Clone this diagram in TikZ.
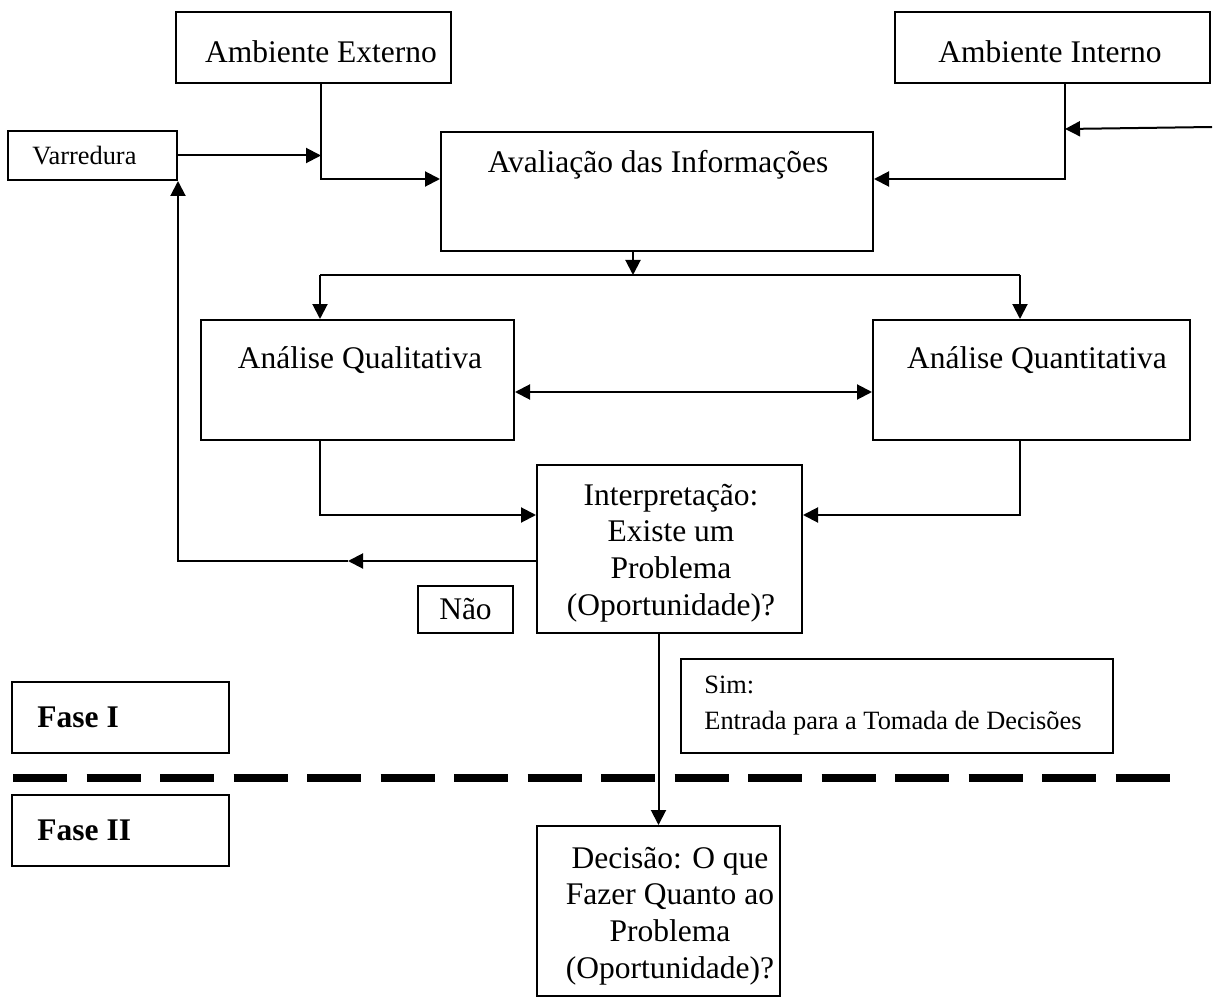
\documentclass[tikz,border=0pt]{standalone}
\usepackage{fontspec}
\setmainfont{Liberation Serif}
\usepackage{tikz}
\usetikzlibrary{positioning}
\usetikzlibrary{arrows.meta}

\newcommand{\mainsize}{\fontsize{15.75}{18.3}\selectfont}
\newcommand{\smallsize}{\fontsize{13.2}{18}\selectfont}

\tikzset{
  box/.style={draw, line width=1pt, inner sep=0pt},
  txt/.style={font=\mainsize, align=center, inner sep=0pt},
  ln/.style={line width=1pt},
  arr/.style={ln, -{Triangle[length=7.5pt,width=7.5pt]}},
  dblarr/.style={ln, {Triangle[length=7.5pt,width=7.5pt]}-{Triangle[length=7.5pt,width=7.5pt]}},
  phase/.style={line width=4pt, dash pattern=on 27pt off 9.75pt},
}

\begin{document}
\begin{tikzpicture}[x=0.5pt,y=-0.5pt]
\useasboundingbox (0,0) rectangle (1217,1006);

% caixas de cima
\node[box, minimum width=137.5pt, minimum height=35.5pt] (ambext) at (313.5,47.5) {};
\node[txt, anchor=base] (ambext-t) at (321,63) {Ambiente Externo};
\node[box, minimum width=157.5pt, minimum height=35.5pt] (ambint) at (1052.5,47.5) {};
\node[txt, anchor=base] (ambint-t) at (1050,63) {Ambiente Interno};
\node[box, minimum width=84.5pt, minimum height=24.5pt] (varr) at (92.5,155.5) {};
\node[txt, font=\smallsize, anchor=base west] (varr-t) at (32,165) {Varredura};
\node[box, minimum width=216pt, minimum height=59.5pt] (aval) at (657,191.5) {};
\node[txt, anchor=base] (aval-t) at (658,173) {Avaliação das Informações};

% analises
\node[box, minimum width=156.5pt, minimum height=60pt] (qual) at (357.5,380) {};
\node[txt, anchor=base] (qual-t) at (360,368) {Análise Qualitativa};
\node[box, minimum width=158.5pt, minimum height=60pt] (quant) at (1031.5,380) {};
\node[txt, anchor=base] (quant-t) at (1037,368) {Análise Quantitativa};

% interpretacao e decisao
\node[box, minimum width=132.5pt, minimum height=84pt] (interp) at (669.5,549) {};
\node[txt] (interp-t) at (671,553) {Interpretação:\\Existe um\\Problema\\(Oportunidade)?};
\node[box, font=\mainsize, minimum width=47.5pt, minimum height=23.5pt] (nao) at (465.5,609.5) {Não};
\node[box, minimum width=216pt, minimum height=47pt] (sim) at (897,706) {};
\node[txt, font=\smallsize, align=left, anchor=west] (sim-t) at (704,706) {Sim:\\Entrada para a Tomada de Decisões};
\node[box, minimum width=121.5pt, minimum height=85pt] (decisao) at (658.5,911) {};
\node[txt] (decisao-t) at (670,916) {Decisão: O que\\Fazer Quanto ao\\Problema\\(Oportunidade)?};

% fases
\node[box, minimum width=108.5pt, minimum height=35.5pt] (fase1) at (120.5,717.5) {};
\node[txt, font=\mainsize\bfseries, anchor=west] (fase1-t) at (37,717) {Fase I};
\node[box, minimum width=108.5pt, minimum height=35.5pt] (fase2) at (120.5,830.5) {};
\node[txt, font=\mainsize\bfseries, anchor=west] (fase2-t) at (37,830) {Fase II};
\coordinate (faseA) at (13,778);
\coordinate (faseB) at (1170,778);
\draw[phase] (faseA) -- (faseB);

% entradas
\coordinate (extdrop) at (321,179);
\coordinate (intdrop) at (1065,179);
\coordinate (intin) at (1212,127);
\coordinate (intjoin) at (1065,129);
\draw[arr] (varr.east) -- (varr.east -| extdrop);
\draw[arr] (ambext.south -| extdrop) -- (extdrop) -- (extdrop -| aval.west);
\draw[arr] (ambint.south -| intdrop) -- (intdrop) -- (intdrop -| aval.east);
\draw[arr] (intin) -- (intjoin);

% divisao para as analises
\coordinate (split) at (633,275);
\coordinate (qualin) at (320,275);
\coordinate (quantin) at (1020,275);
\draw[arr] (aval.south -| split) -- (split);
\draw[ln] (qualin) -- (quantin);
\draw[arr] (qualin) -- (qualin |- qual.north);
\draw[arr] (quantin) -- (quantin |- quant.north);
\draw[dblarr] ([yshift=-6pt]qual.east) -- ([yshift=-6pt]quant.west);

% para a interpretacao
\coordinate (qualout) at (320,515);
\coordinate (quantout) at (1020,515);
\draw[arr] (qualout |- qual.south) -- (qualout) -- (qualout -| interp.west);
\draw[arr] (quantout |- quant.south) -- (quantout) -- (quantout -| interp.east);

% retorno (nao) e decisao (sim)
\coordinate (back) at (178,561);
\coordinate (backmid) at (348,561);
\draw[arr] (back -| interp.west) -- (backmid);
\draw[arr] (backmid) -- (back) -- (back |- varr.south);
\draw[arr] (interp.south -| decisao.north) -- (decisao.north);
\end{tikzpicture}
\end{document}
